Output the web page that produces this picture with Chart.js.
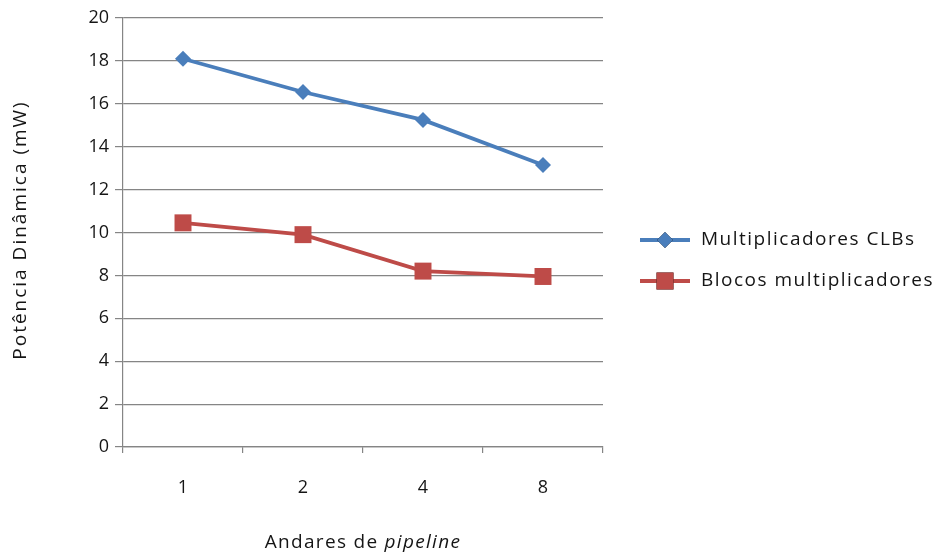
<!DOCTYPE html>
<html><head><meta charset="utf-8">
<script src="https://cdn.jsdelivr.net/npm/chart.js@4/dist/chart.umd.min.js"></script>
<style>html,body{margin:0;padding:0;background:#fff}#wrap{width:939px;height:554px}</style>
</head><body><div id="wrap"><canvas id="c" width="939" height="554"></canvas></div>
<script>
const categories = ['1', '2', '4', '8'];
const clbValues = [18.1, 16.55, 15.25, 13.15];
const blocosValues = [10.45, 9.9, 8.2, 7.95];
const seriesNames = ['Multiplicadores CLBs', 'Blocos multiplicadores'];
const yTitle = 'Potência Dinâmica (mW)';
const xTitleParts = ['Andares de ', 'pipeline'];

const FONT = '"Open Sans"';
const FS = 18;
const FS_T = 19;
const GRID = '#858585';
const BLUE = '#4a7ebb';
const RED = '#be4b48';
const TXT = '#151515';

function setSpacing(ctx, px) { if ('letterSpacing' in ctx) ctx.letterSpacing = px + 'px'; }

const legendPlugin = {
  id: 'sideLegend',
  afterDraw(chart) {
    const ctx = chart.ctx;
    const ys = [240, 281];
    chart.data.datasets.forEach((ds, i) => {
      const y = ys[i];
      ctx.save();
      ctx.strokeStyle = ds.borderColor;
      ctx.lineWidth = 3.8;
      ctx.beginPath(); ctx.moveTo(640, y); ctx.lineTo(690, y); ctx.stroke();
      Chart.helpers.drawPoint(ctx, {pointStyle: ds.pointStyle, radius: ds.pointRadius, borderWidth: 0}, 665, y);
      ctx.fillStyle = ds.backgroundColor;
      ctx.fill();
      ctx.fillStyle = TXT;
      ctx.font = FS_T + 'px ' + FONT;
      setSpacing(ctx, 1.5);
      ctx.textBaseline = 'middle';
      ctx.textAlign = 'left';
      ctx.fillText(ds.label, 701, y);
      ctx.restore();
    });
  }
};

const titlesPlugin = {
  id: 'axisTitles',
  afterDraw(chart) {
    const ctx = chart.ctx;
    const a = chart.chartArea;
    ctx.save();
    ctx.fillStyle = TXT;
    ctx.textBaseline = 'middle';
    setSpacing(ctx, 1.3);
    ctx.font = FS_T + 'px ' + FONT;
    const w1 = ctx.measureText(xTitleParts[0]).width;
    ctx.font = 'italic ' + FS_T + 'px ' + FONT;
    const w2 = ctx.measureText(xTitleParts[1]).width;
    const cx = (a.left + a.right) / 2;
    const x0 = cx - (w1 + w2) / 2;
    ctx.textAlign = 'left';
    ctx.font = FS_T + 'px ' + FONT;
    ctx.fillText(xTitleParts[0], x0, 543);
    ctx.font = 'italic ' + FS_T + 'px ' + FONT;
    ctx.fillText(xTitleParts[1], x0 + w1, 543);
    ctx.restore();

    ctx.save();
    ctx.fillStyle = TXT;
    ctx.font = FS_T + 'px ' + FONT;
    setSpacing(ctx, 2);
    ctx.textBaseline = 'middle';
    ctx.textAlign = 'left';
    const wy = ctx.measureText(yTitle).width;
    ctx.translate(21, 230);
    ctx.rotate(-Math.PI / 2);
    ctx.fillText(yTitle, -wy / 2, 0);
    ctx.restore();
  }
};

new Chart(document.getElementById('c'), {
  type: 'line',
  data: {
    labels: categories,
    datasets: [
      {label: seriesNames[0], data: clbValues, borderColor: BLUE, backgroundColor: BLUE,
       borderWidth: 3.8, pointStyle: 'rectRot', pointRadius: 8, pointHoverRadius: 8,
       pointBorderWidth: 0, tension: 0},
      {label: seriesNames[1], data: blocosValues, borderColor: RED, backgroundColor: RED,
       borderWidth: 3.8, pointStyle: 'rect', pointRadius: 12, pointHoverRadius: 12,
       pointBorderWidth: 0, tension: 0}
    ]
  },
  options: {
    responsive: false,
    animation: false,
    layout: {padding: {left: 0, right: 336, top: 18, bottom: 0}},
    plugins: {legend: {display: false}, tooltip: {enabled: false}},
    scales: {
      x: {
        offset: true,
        grid: {offset: true, drawOnChartArea: false, color: GRID, tickLength: 6, lineWidth: 1.2},
        border: {color: GRID, width: 1.2},
        ticks: {color: TXT, font: {family: FONT, size: FS}, padding: 24},
        afterFit(s) { s.height = 107; }
      },
      y: {
        min: 0, max: 20,
        grid: {color: GRID, tickLength: 8, lineWidth: 1.2},
        border: {color: GRID, width: 1.2},
        ticks: {stepSize: 2, color: TXT, font: {family: FONT, size: FS}, padding: 6},
        afterFit(s) { s.width = 123; }
      }
    }
  },
  plugins: [legendPlugin, titlesPlugin]
});
</script>
</body></html>
